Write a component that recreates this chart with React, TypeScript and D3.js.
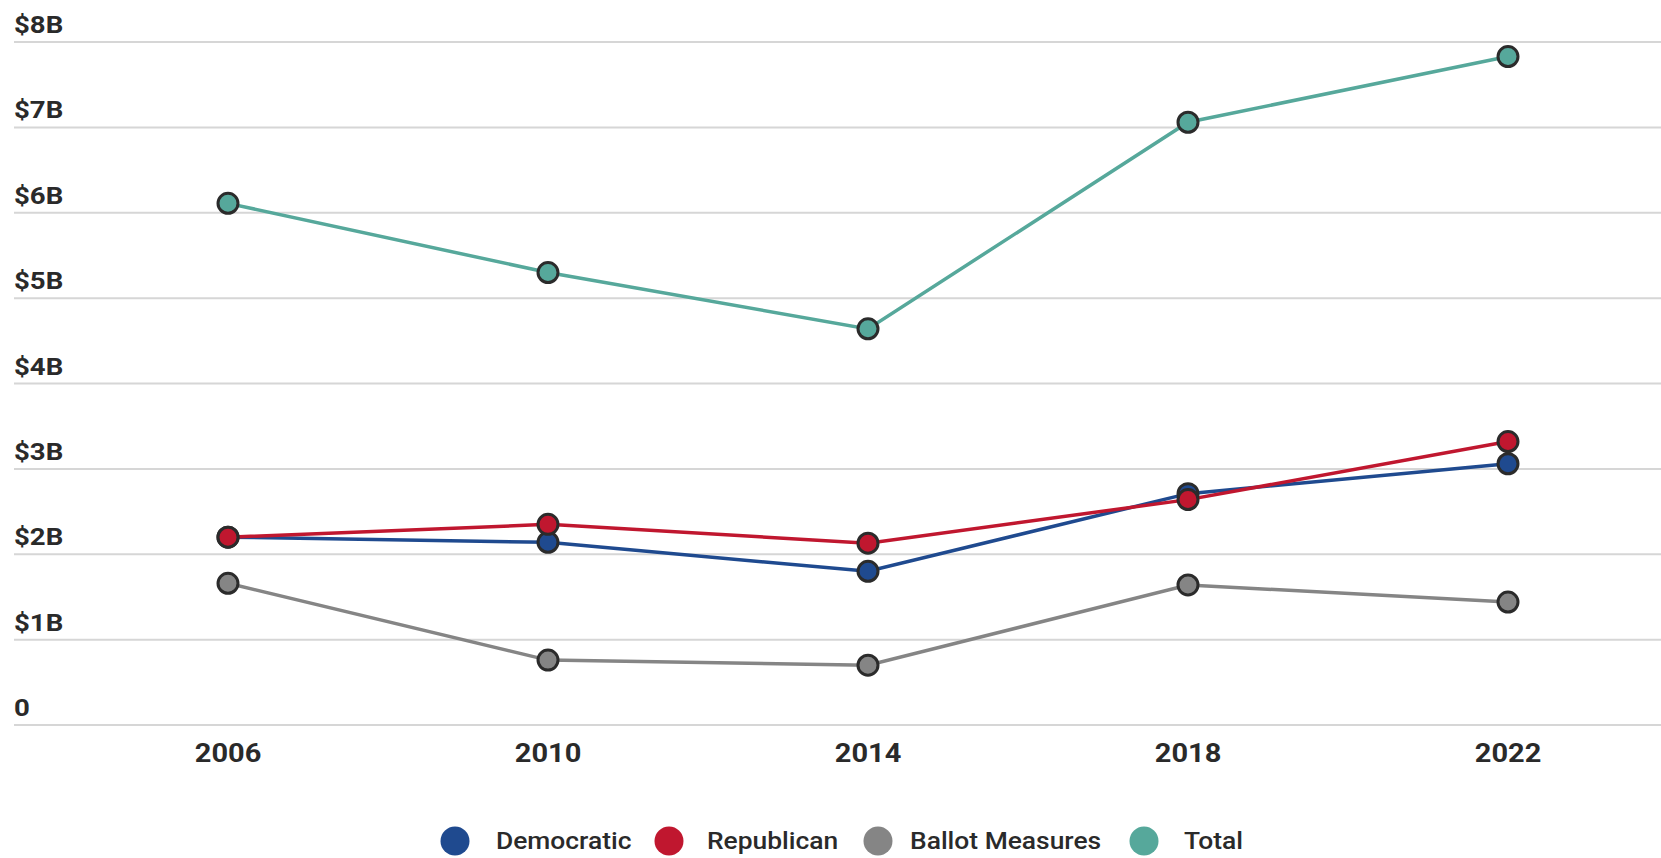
import React from "react";
import * as d3 from "d3";

const years = ["2006", "2010", "2014", "2018", "2022"];
const democratic = [2.2, 2.14, 1.8, 2.71, 3.06];
const republican = [2.2, 2.35, 2.13, 2.64, 3.32];
const ballotMeasures = [1.66, 0.76, 0.7, 1.64, 1.44];
const total = [6.11, 5.3, 4.64, 7.06, 7.83];
const yTicks = [0, 1, 2, 3, 4, 5, 6, 7, 8];
const seriesNames = ["Democratic", "Republican", "Ballot Measures", "Total"];
const seriesColors = ["#1f4a8f", "#c0172f", "#858585", "#56a89b"];

const W = 1661;
const H = 858;

export default function App() {
  const x = d3.scalePoint<string>().domain(years).range([228, 1508]);
  const y = d3.scaleLinear().domain([0, 8]).range([725, 42]);
  const line = d3
    .line<number>()
    .x((_, i) => x(years[i]) as number)
    .y((d) => y(d));
  const series = [democratic, republican, ballotMeasures, total];
  const drawOrder = [2, 3, 0, 1];
  const legendCircleX = [455, 669, 878, 1144];
  const legendTextX = [496, 707, 910, 1184];
  const font = "Roboto, 'Noto Sans', sans-serif";
  return (
    <svg
      width={W}
      height={H}
      style={{ position: "absolute", left: 0, top: 0, background: "#fff" }}
      fontFamily={font}
    >
      {yTicks.map((t) => (
        <g key={t}>
          <line x1={14} x2={W} y1={y(t)} y2={y(t)} stroke="#d6d6d6" strokeWidth={2} />
          <text
            x={0}
            y={0}
            fontSize={23}
            fontWeight={700}
            fill="#2a2a2a"
            transform={`translate(14,${y(t) - 9}) scale(1.2,1)`}
          >
            {t === 0 ? "0" : `$${t}B`}
          </text>
        </g>
      ))}
      {years.map((yr) => (
        <text
          key={yr}
          x={0}
          y={0}
          textAnchor="middle"
          fontSize={25}
          fontWeight={700}
          fill="#2a2a2a"
          transform={`translate(${x(yr)},762) scale(1.16,1)`}
        >
          {yr}
        </text>
      ))}
      {drawOrder.map((si) => (
        <path
          key={"l" + si}
          d={line(series[si]) || ""}
          fill="none"
          stroke={seriesColors[si]}
          strokeWidth={3.5}
        />
      ))}
      {drawOrder.map((si) => (
        <g key={"p" + si}>
          {series[si].map((v, i) => (
            <circle
              key={i}
              cx={x(years[i]) as number}
              cy={y(v)}
              r={10}
              fill={seriesColors[si]}
              stroke="#2b2b2b"
              strokeWidth={3}
            />
          ))}
        </g>
      ))}
      {seriesNames.map((n, i) => (
        <g key={n}>
          <circle cx={legendCircleX[i]} cy={841} r={14.5} fill={seriesColors[i]} />
          <text
            x={0}
            y={0}
            fontSize={24}
            fontWeight={500}
            fill="#2a2a2a"
            transform={`translate(${legendTextX[i]},849) scale(1.1,1)`}
          >
            {n}
          </text>
        </g>
      ))}
    </svg>
  );
}
